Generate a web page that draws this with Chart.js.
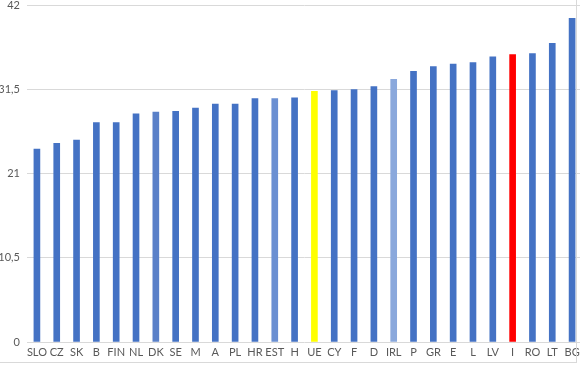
<!DOCTYPE html>
<html>
<head>
<meta charset="utf-8">
<script src="https://cdn.jsdelivr.net/npm/chart.js@4"></script>
<style>
  html, body { margin: 0; padding: 0; background: #fff; overflow: hidden; }
  #wrap { position: relative; width: 580px; height: 365px; overflow: hidden; }
  #frame { position: absolute; left: 0; top: 0; width: 577px; height: 363px;
           border-right: 1px solid #d9d9d9; border-bottom: 1px solid #d9d9d9;
           box-sizing: border-box; pointer-events: none; }
  #cv { position: absolute; left: 0; top: -8px; }
</style>
</head>
<body>
<div id="wrap">
  <canvas id="cv" width="590" height="373"></canvas>
  <div id="frame"></div>
</div>
<script>
const countries = ['SLO', 'CZ', 'SK', 'B', 'FIN', 'NL', 'DK', 'SE', 'M', 'A', 'PL', 'HR', 'EST', 'H',
    'UE', 'CY', 'F', 'D', 'IRL', 'P', 'GR', 'E', 'L', 'LV', 'I', 'RO', 'LT', 'BG'];
const values = [24.1, 24.8, 25.2, 27.4, 27.4, 28.5, 28.7, 28.8, 29.2, 29.7, 29.7, 30.4, 30.4, 30.5,
    31.3, 31.4, 31.5, 31.9, 32.8, 33.8, 34.4, 34.7, 34.9, 35.6, 35.9, 36.0, 37.3, 40.4];
const yTicks = [0, 10.5, 21, 31.5, 42];

// colori speciali
const baseColor = '#4472c4';
const special = { 'DK': '#5a80c8', 'EST': '#6a8fd2', 'IRL': '#8aa8dc', 'UE': '#ffff00', 'I': '#ff0000' };
const colors = countries.map(c => special[c] || baseColor);

const ctx = document.getElementById('cv');
new Chart(ctx, {
    type: 'bar',
    data: {
        labels: countries,
        datasets: [{
            data: values,
            backgroundColor: colors,
            borderWidth: 0,
            barThickness: 6,
            categoryPercentage: 1
        }]
    },
    options: {
        responsive: false,
        animation: false,
        devicePixelRatio: 1,
        layout: { padding: { top: 5, right: 8, bottom: 0, left: 0 } },
        plugins: { legend: { display: false }, tooltip: { enabled: false } },
        scales: {
            x: {
                grid: { display: false, drawTicks: false },
                border: { display: false },
                ticks: {
                    color: '#595959',
                    font: { family: 'Lato', size: 11 },
                    padding: 4,
                    autoSkip: false,
                    maxRotation: 0
                },
                afterFit: s => { s.height = 23; }
            },
            y: {
                min: 0,
                max: 42,
                afterBuildTicks: s => { s.ticks = yTicks.map(v => ({ value: v })); },
                grid: { color: '#d9d9d9', drawTicks: false },
                border: { display: false },
                ticks: {
                    color: '#595959',
                    font: { family: 'Lato', size: 11 },
                    padding: 7,
                    callback: v => String(v).replace('.', ',')
                },
                afterFit: s => { s.width = 27; }
            }
        }
    }
});
</script>
</body>
</html>
